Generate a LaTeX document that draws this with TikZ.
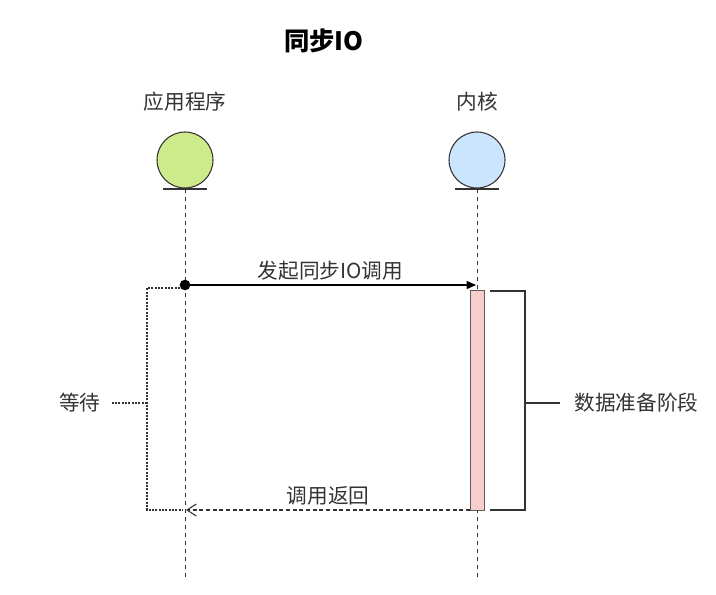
\documentclass[tikz,border=0pt]{standalone}
\usepackage{fontspec}
\setmainfont{Noto Sans CJK SC}
\usetikzlibrary{arrows.meta}
\definecolor{txt}{HTML}{333333}
\definecolor{greenfill}{HTML}{CDEB8B}
\definecolor{bluefill}{HTML}{CCE5FF}
\definecolor{pinkfill}{HTML}{F8CECC}
\tikzset{
  lbl/.style={text=txt, font=\fontsize{15.5}{18}\selectfont, inner sep=1pt},
  actor/.style={circle, draw=txt, line width=0.8pt, minimum size=42pt, inner sep=0pt},
  lifeline/.style={dashed, draw=txt, line width=0.5pt, dash pattern=on 3pt off 3pt},
  bracket/.style={draw=txt, line width=2pt},
  waitline/.style={draw=txt, line width=2pt, dash pattern=on 1.5pt off 1pt},
}
\begin{document}
\begin{tikzpicture}[x=0.75pt, y=-0.75pt]
\useasboundingbox (0,0) rectangle (716,594);
% title
\node[text=black, font=\fontsize{19}{22}\selectfont\bfseries] (title) at (324,41) {同步IO};
% actors
\node[lbl] (appname) at (185,102) {应用程序};
\node[lbl] (kername) at (477,102) {内核};
\node[actor, fill=greenfill] (app) at (185,160) {};
\node[actor, fill=bluefill] (ker) at (477,160) {};
\draw[txt, line width=0.8pt] (163,189) -- (207,189);
\draw[txt, line width=0.8pt] (455,189) -- (499,189);
\coordinate (appbot) at (185,189);
\coordinate (kerbot) at (477,189);
\coordinate (append) at (185,580);
\coordinate (kerend) at (477,580);
\draw[lifeline] (appbot) -- (append);
\draw[lifeline] (kerbot) -- (kerend);
% activation
\node[draw=txt!80, fill=pinkfill, line width=0.6pt, minimum width=10.5pt, minimum height=165pt, inner sep=0pt, anchor=north] (act) at (477,290) {};
% call
\coordinate (callstart) at (185,285);
\coordinate (callend) at (476,285);
\fill[black] (callstart) circle (4pt);
\draw[black, line width=0.8pt, -{Triangle[length=7pt,width=6pt]}] (callstart) -- (callend)
  node[lbl, midway, above=2pt] (calllbl) {发起同步IO调用};
% return
\coordinate (retstart) at (470,510);
\coordinate (retend) at (186,510);
\draw[txt, line width=0.8pt, dash pattern=on 3pt off 2pt, -{Straight Barb[length=7pt,width=9pt]}] (retstart) -- (retend)
  node[lbl, midway, above=2pt] (retlbl) {调用返回};
% data preparation bracket
\draw[bracket] (490,291) -- (525,291) -- (525,510) -- (490,510);
\draw[bracket] (525,403) -- (560,403);
\node[lbl, anchor=west] (prep) at (573,403) {数据准备阶段};
% wait bracket
\draw[waitline] (180,288) -- (147,288) -- (147,510) -- (183,510);
\draw[waitline] (147,403) -- (111,403);
\node[lbl, anchor=east] (wait) at (102,403) {等待};
\end{tikzpicture}
\end{document}
